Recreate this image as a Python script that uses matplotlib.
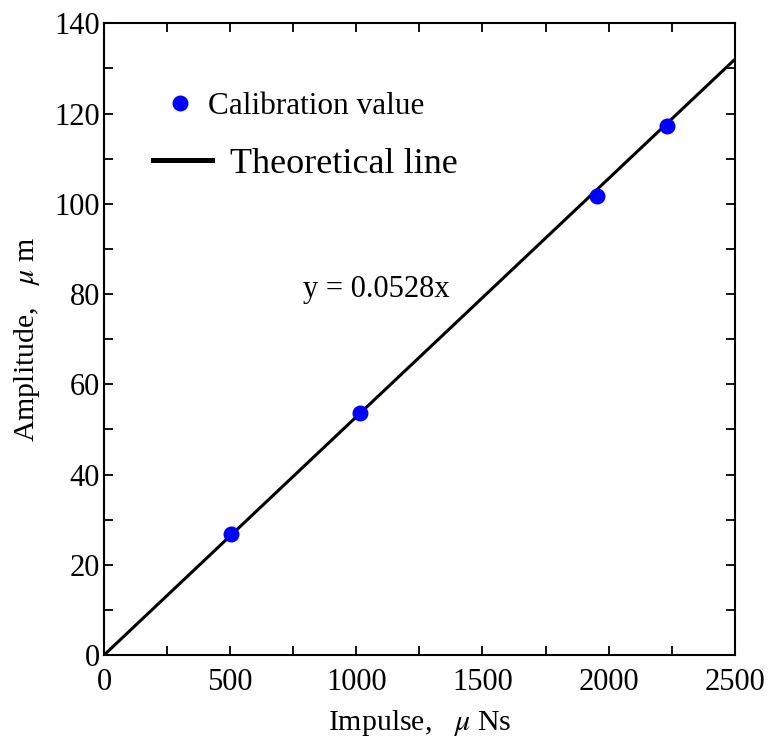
import matplotlib
matplotlib.use("Agg")
import matplotlib.pyplot as plt
from matplotlib.ticker import MultipleLocator

# Calibration measurements
impulse = [504, 1015, 1954, 2233]        # μNs
amplitude = [26.9, 53.6, 101.7, 117.2]   # μm

# Theoretical relation y = k * x
slope = 0.0528
line_x = [0, 2500]

x_ticks = [0, 500, 1000, 1500, 2000, 2500]
y_ticks = [0, 20, 40, 60, 80, 100, 120, 140]

plt.rcParams['font.family'] = ['Liberation Serif', 'DejaVu Serif']
plt.rcParams['mathtext.fontset'] = 'stix'

fig = plt.figure(figsize=(7.71, 7.43), dpi=100)
ax = fig.add_axes([0.135, 0.1184, 0.818, 0.8502])

line_y = [slope * v for v in line_x]
ln, = ax.plot(line_x, line_y, color='black', lw=2.2, zorder=2,
              label='Theoretical line')
pts, = ax.plot(impulse, amplitude, 'o', color='#0000ff', ms=11.5,
               mec='none', zorder=3, label='Calibration value')

ax.set_xlim(0, 2500)
ax.set_ylim(0, 140)
ax.set_xticks(x_ticks)
ax.set_yticks(y_ticks)
ax.xaxis.set_minor_locator(MultipleLocator(250))
ax.yaxis.set_minor_locator(MultipleLocator(10))
ax.tick_params(which='both', direction='in', top=True, right=True,
               length=6.5, width=1.3, labelsize=22)
ax.tick_params(axis='x', pad=9.5)
ax.tick_params(axis='y', pad=3)
for s in ax.spines.values():
    s.set_linewidth(1.5)

ax.set_xlabel(r'Impulse,   $\mu$ Ns', fontsize=21.5, labelpad=8)
ax.set_ylabel(r'Amplitude,   $\mu$ m', fontsize=21.5, labelpad=9)

ax.text(790, 81, 'y = 0.0528x', fontsize=22, ha='left', va='center')

# Two single-entry legends so each entry keeps its own text size
leg1 = ax.legend(handles=[pts], loc='center left',
                 bbox_to_anchor=(0.1006, 0.868), frameon=False,
                 handlelength=0.8, handletextpad=0.5, borderpad=0,
                 borderaxespad=0, fontsize=22.5)
ax.add_artist(leg1)
leg2 = ax.legend(handles=[ln], loc='center left',
                 bbox_to_anchor=(0.0777, 0.777), frameon=False,
                 handlelength=1.63, handletextpad=0.5, borderpad=0,
                 borderaxespad=0, fontsize=26)
leg2.legend_handles[0].set_linewidth(3.6)

fig.savefig('out.png', dpi=100)
